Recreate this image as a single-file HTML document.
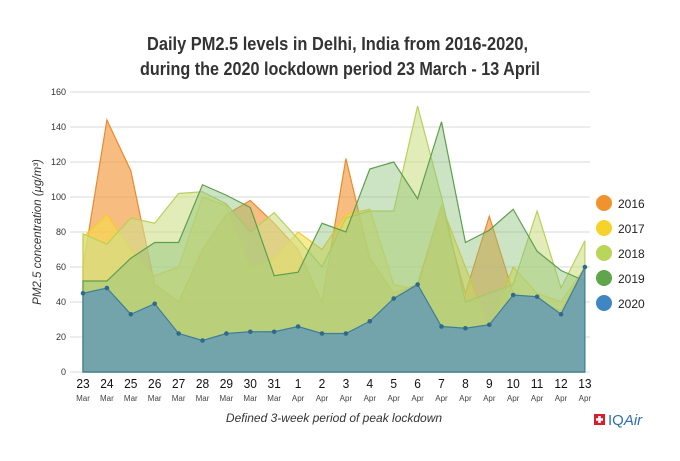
<!DOCTYPE html>
<html><head><meta charset="utf-8"><style>
body{margin:0;background:#fff;width:680px;height:456px;overflow:hidden;font-family:"Liberation Sans",sans-serif}
</style></head><body>
<svg id="s" width="680" height="456" xmlns="http://www.w3.org/2000/svg" font-family="Liberation Sans, sans-serif">
<text x="147" y="50" textLength="381" lengthAdjust="spacingAndGlyphs" font-size="18" font-weight="bold" fill="#333">Daily PM2.5 levels in Delhi, India from 2016-2020,</text>
<text x="140" y="75" textLength="400" lengthAdjust="spacingAndGlyphs" font-size="18" font-weight="bold" fill="#333">during the 2020 lockdown period 23 March - 13 April</text>
<g id="grid"></g>
<g id="areas"></g>
<g id="labels"></g>
<text transform="translate(41,232) rotate(-90)" text-anchor="middle" font-size="11.5" font-style="italic" fill="#333">PM2.5 concentration (μg/m³)</text>
<text x="334" y="422" text-anchor="middle" font-size="12" font-style="italic" fill="#333">Defined 3-week period of peak lockdown</text>
<rect x="594" y="414" width="11" height="11" fill="#d81e2a"/>
<path d="M598.2 416h2.6v2.2h2.2v2.6h-2.2v2.2h-2.6v-2.2h-2.2v-2.6h2.2z" fill="#fff"/>
<text x="608" y="425" font-size="15" fill="#2e6fb5">IQ<tspan font-style="italic">Air</tspan></text>
<g font-size="12" fill="#222">
<circle cx="604" cy="203" r="8" fill="#f0922d"/><text x="618" y="208">2016</text>
<circle cx="604" cy="228" r="8" fill="#f5d32a"/><text x="618" y="233">2017</text>
<circle cx="604" cy="253" r="8" fill="#b9d65a"/><text x="618" y="258">2018</text>
<circle cx="604" cy="278" r="8" fill="#5ea54b"/><text x="618" y="283">2019</text>
<circle cx="604" cy="303" r="8" fill="#3f87c2"/><text x="618" y="308">2020</text>
</g>
</svg>
<script>
var NS="http://www.w3.org/2000/svg",x0=83,dx=23.9,y0=372,k=1.75;
function X(i){return x0+i*dx}function Y(v){return y0-v*k}
function el(t,a,p){var e=document.createElementNS(NS,t);for(var n in a)e.setAttribute(n,a[n]);p.appendChild(e);return e}
var g=document.getElementById('grid');
for(var v=0;v<=160;v+=20){el('line',{x1:70,x2:590,y1:Y(v),y2:Y(v),stroke:'#d8d8d8','stroke-width':1},g);
var t=el('text',{x:66,y:Y(v)+3,'text-anchor':'end','font-size':9,fill:'#333'},g);t.textContent=v;}
var D={
2016:[60,144,115,50,40,70,90,98,85,70,40,122,65,45,50,95,45,89,45,40,35,60],
2017:[77,90,70,55,60,100,95,60,65,80,70,90,93,50,47,95,60,25,60,45,40,60],
2018:[79,73,88,85,102,103,96,80,91,76,60,88,92,92,152,100,40,45,50,92,48,75],
2019:[52,52,65,74,74,107,101,94,55,57,85,80,116,120,99,143,74,81,93,69,58,52],
2020:[45,48,33,39,22,18,22,23,23,26,22,22,29,42,50,26,25,27,44,43,33,60]};
var C={2016:['#f4a04a','#ea8a2e',0.7],2017:['#f7dc4a','#f1cc2a',0.6],2018:['#cfe08a','#b9d05a',0.6],2019:['#8fc47a','#5e9e4e',0.45],2020:['#6d9fb0','#3e7e99',0.9]};
var a=document.getElementById('areas');
[2016,2017,2018,2019,2020].forEach(function(yr){var d=D[yr],p='M'+X(0)+','+Y(0);
d.forEach(function(v,i){p+='L'+X(i)+','+Y(v)});p+='L'+X(21)+','+Y(0)+'Z';
el('path',{d:p,fill:C[yr][0],'fill-opacity':C[yr][2],stroke:C[yr][1],'stroke-width':1.2},a);
if(yr==2020)d.forEach(function(v,i){el('circle',{cx:X(i),cy:Y(v),r:2.3,fill:'#2f6a8c'},a)});});
var l=document.getElementById('labels');
for(var i=0;i<22;i++){var n=i<9?23+i:i-8,m=i<9?'Mar':'Apr';
var t=el('text',{x:X(i),y:388,'text-anchor':'middle','font-size':13,fill:'#111',transform:'translate('+X(i)+',0) scale(0.92,1) translate('+(-X(i))+',0)'},l);t.textContent=n;
t=el('text',{x:X(i),y:401,'text-anchor':'middle','font-size':8,fill:'#444'},l);t.textContent=m;}
</script>
</body></html>
